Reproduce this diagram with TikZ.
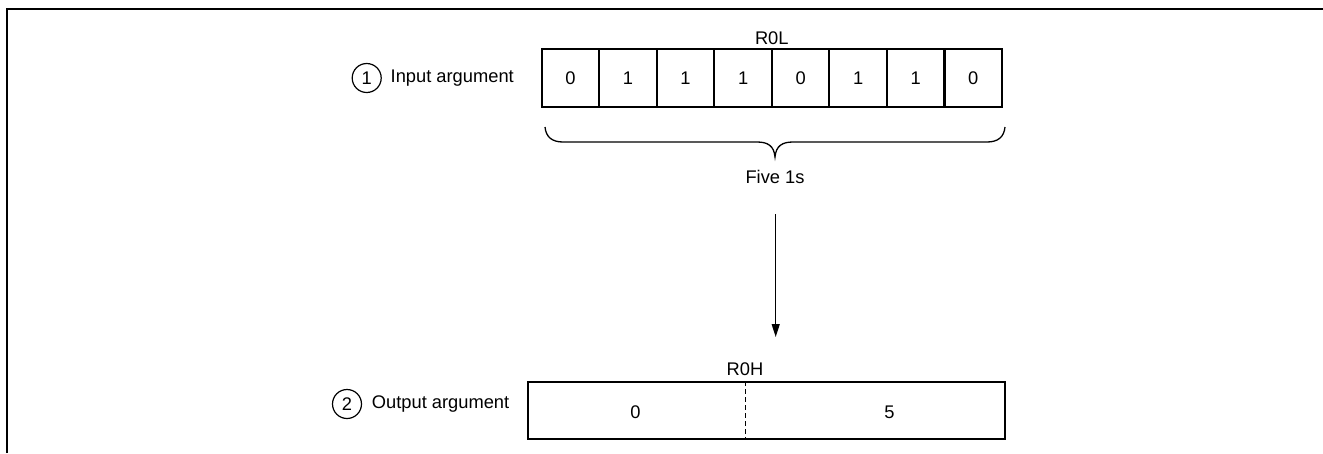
\documentclass[tikz,border=0pt]{standalone}
\usepackage{fontspec}
\setmainfont{Liberation Sans}
\usetikzlibrary{arrows.meta}
\begin{document}
\begin{tikzpicture}[x=1pt,y=-1pt,
  txt/.style={font=\fontsize{18.3}{20}\selectfont, inner sep=0pt},
  cell/.style={draw, line width=2pt, minimum width=57.5pt, minimum height=57.7pt, inner sep=0pt, font=\fontsize{18.3}{20}\selectfont},
  num/.style={circle, draw, line width=1.2pt, minimum size=29pt, inner sep=0pt, font=\fontsize{18.3}{20}\selectfont},
  thin/.style={line width=1.3pt}]
\useasboundingbox (0,0) rectangle (1323,453);
% partial frame
\draw[line width=2pt] (6.7,453) -- (6.7,8.7) -- (1323,8.7);

% input register
\node[txt] (r0l) at (771.8,38) {R0L};
\foreach \v [count=\i from 0] in {0,1,1,1,0,1,1,0}
  \node[cell] (c\i) at ({541.7+57.54*\i+28.77},78.2) {\v};
\node[num] (n1) at (366.7,78) {1};
\node[txt, anchor=west] (lin) at (390.5,78) {Input argument};

% brace under the bits
\draw[thin] (545,127) .. controls (546,137) and (552,142) .. (563,142)
  -- (757,142) .. controls (768,142) and (774,146) .. (775,157)
  .. controls (776,146) and (782,142) .. (793,142)
  -- (987,142) .. controls (998,142) and (1004,137) .. (1005,127);
\node[txt] (five) at (775,177) {Five 1s};

% arrow down
\coordinate (as) at (775.7,214);
\coordinate (ae) at (775.7,337);
\draw[thin, -{Triangle[length=13pt,width=8pt]}] (as) -- (ae);

% output register
\node[txt] (r0h) at (745,369) {R0H};
\node[draw, line width=2pt, minimum width=477pt, minimum height=57pt, inner sep=0pt] (out) at (766.5,410.8) {};
\draw[line width=1pt, dash pattern=on 5pt off 3pt] (out.north -| 745,0) -- (out.south -| 745,0);
\node[txt] (v0) at (635.5,412.5) {0};
\node[txt] (v5) at (889.5,412.5) {5};
\node[num] (n2) at (347,404) {2};
\node[txt, anchor=west] (lout) at (371.7,404) {Output argument};
\end{tikzpicture}
\end{document}
